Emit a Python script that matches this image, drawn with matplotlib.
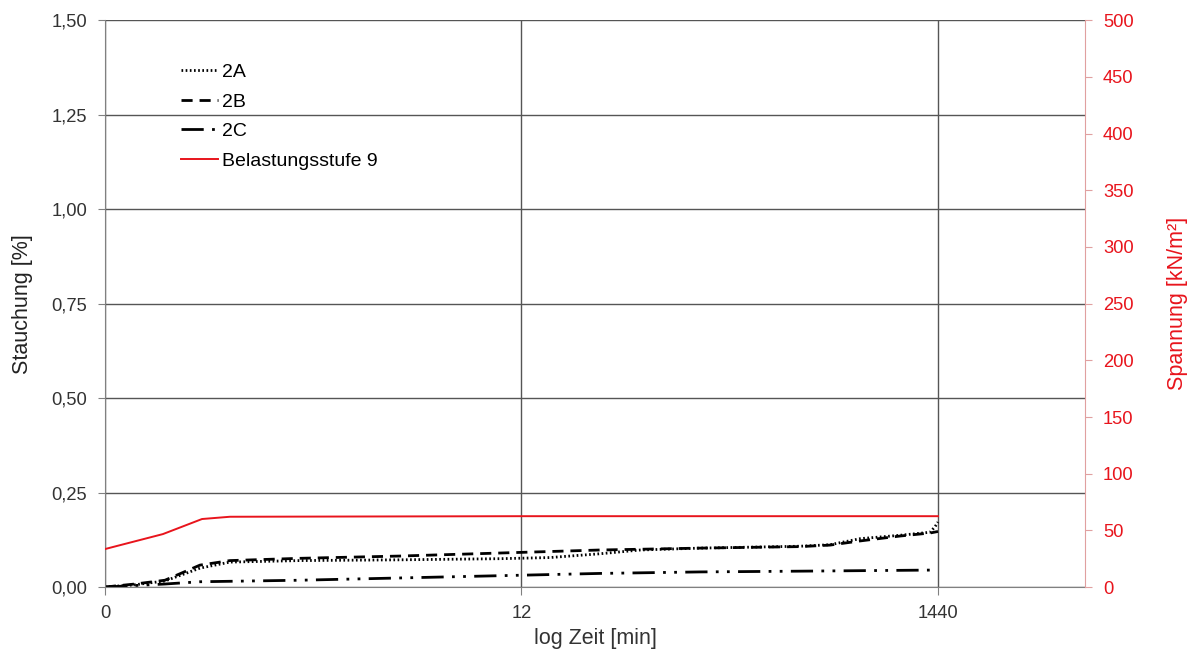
import numpy as np
import matplotlib.pyplot as plt

plt.rcParams['font.family'] = ['Liberation Sans', 'DejaVu Sans']

# x positions on the log time axis (0 -> 0 min, 1 -> 12 min, 2 -> 1440 min)
x_ticks = [0, 1, 2]
x_ticklabels = ['0', '12', '1440']

# Stauchung [%]
x_2A = [0, 0.072, 0.144, 0.228, 0.30, 0.468, 0.708, 0.948, 1.068, 1.188, 1.285,
        1.429, 1.669, 1.741, 1.813, 1.909, 1.981, 1.993, 2.0]
y_2A = [0, 0.006, 0.016, 0.050, 0.066, 0.070, 0.072, 0.075, 0.078, 0.088, 0.098,
        0.103, 0.108, 0.112, 0.128, 0.137, 0.145, 0.160, 0.172]

x_2B = [0, 0.072, 0.144, 0.228, 0.30, 0.468, 0.708, 0.948, 1.068, 1.188, 1.285,
        1.429, 1.669, 1.741, 1.813, 1.909, 1.981, 2.0]
y_2B = [0, 0.008, 0.018, 0.058, 0.070, 0.076, 0.082, 0.090, 0.094, 0.098, 0.100,
        0.103, 0.107, 0.111, 0.122, 0.135, 0.143, 0.147]

x_2C = [0, 0.144, 0.228, 0.468, 0.708, 0.948, 1.188, 1.429, 1.669, 2.0]
y_2C = [0, 0.008, 0.014, 0.018, 0.024, 0.030, 0.036, 0.040, 0.042, 0.045]

# Spannung [kN/m²]
x_load = [0, 0.139, 0.233, 0.30, 1.0, 2.0]
y_load = [33.5, 46.7, 60, 62, 62.5, 62.5]

fig = plt.figure(figsize=(11.93, 6.54), dpi=100)
ax = fig.add_axes([0.088, 0.1024, 0.8215, 0.8666])
ax2 = ax.twinx()

l1, = ax.plot(x_2A, y_2A, color='black', lw=2, linestyle=(0, (0.6, 0.9)), label='2A')
l2, = ax.plot(x_2B, y_2B, color='black', lw=2, linestyle=(0, (4, 2.5)), label='2B')
l3, = ax.plot(x_2C, y_2C, color='black', lw=2,
              linestyle=(0, (8, 3, 1, 3, 1, 3)), label='2C')
l4, = ax2.plot(x_load, y_load, color='#e8141c', lw=1.4, label='Belastungsstufe 9')

ax.set_xlim(0, 2.353)
ax.set_ylim(0, 1.5)
ax2.set_ylim(0, 500)

ax.set_xticks(x_ticks)
ax.set_xticklabels(x_ticklabels)
ax.set_yticks(np.arange(0, 1.51, 0.25))
ax.set_yticklabels([f'{v:.2f}'.replace('.', ',') for v in np.arange(0, 1.51, 0.25)])
ax2.set_yticks(np.arange(0, 501, 50))

ax.grid(True, color='#555555', lw=1)
ax.set_axisbelow(True)

ax.spines['top'].set_visible(False)
ax2.spines['top'].set_visible(False)
ax.spines['left'].set_color('#808080')
ax.spines['bottom'].set_color('#808080')
ax.spines['right'].set_visible(False)
ax2.spines['left'].set_visible(False)
ax2.spines['bottom'].set_visible(False)
ax2.spines['right'].set_color('#e0a0a0')

ax.tick_params(axis='y', colors='#808080', labelcolor='#333333', labelsize=13.2, length=5, pad=8)
ax.tick_params(axis='x', colors='#808080', labelcolor='#333333', labelsize=13.2, length=6, pad=7)
ax2.tick_params(axis='y', colors='#e0a0a0', labelcolor='#e8141c', labelsize=13.2, length=5, pad=8)

ax.set_xlabel('log Zeit [min]', fontsize=15.5, color='#333333', labelpad=4)
ax.set_ylabel('Stauchung [%]', fontsize=15.5, color='#222222', labelpad=13)
ax2.set_ylabel('Spannung [kN/m²]', fontsize=15.5, color='#e8141c', labelpad=24)

leg = ax.legend(handles=[l1, l2, l3, l4], loc='upper left', bbox_to_anchor=(0.06, 0.955),
                frameon=False, fontsize=14, handlelength=1.9, handletextpad=0.2,
                labelspacing=0.62)

fig.savefig('out.png', dpi=100, facecolor='white')
